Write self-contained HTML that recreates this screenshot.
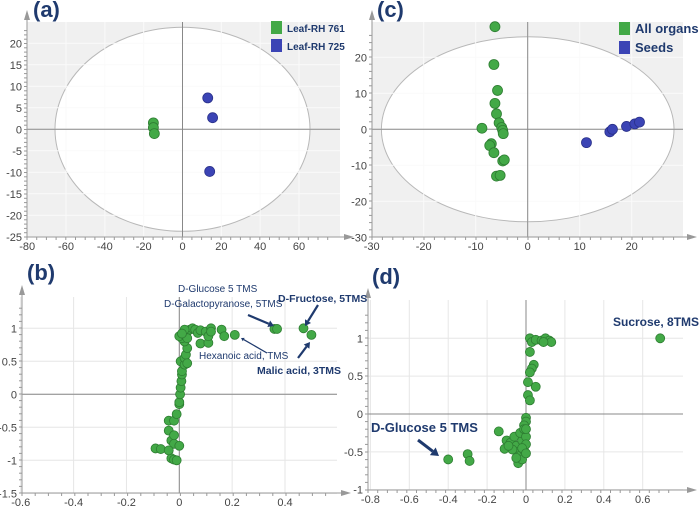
<!DOCTYPE html>
<html><head><meta charset="utf-8">
<style>
body{margin:0;background:#fff;width:699px;height:510px;overflow:hidden;font-family:"Liberation Sans",sans-serif}
svg text{font-family:"Liberation Sans",sans-serif}
</style></head>
<body>
<svg id="fig" width="699" height="510" viewBox="0 0 699 510" xmlns="http://www.w3.org/2000/svg"></svg>
<script>
// Panel (a) scores
const aGreenX=[-15,-15,-14.5];
const aGreenY=[1.5,0.4,-1];
const aBlueX=[13,15.5,14];
const aBlueY=[7.3,2.7,-9.8];
const aXTicks=[-80,-60,-40,-20,0,20,40,60];
const aYTicks=[20,15,10,5,0,-5,-10,-15,-20,-25];
// Panel (c) scores
const cGreenX=[-6.3,-6.5,-5.8,-6.3,-6,-5.5,-5,-4.8,-4.7,-8.8,-7,-7.3,-6.5,-4.8,-4.5,-6,-5.3];
const cGreenY=[28.5,18,10.8,7.2,4.3,1.8,0.5,-0.3,-1.2,0.3,-4,-4.5,-6.5,-8.8,-8.5,-13,-12.8];
const cBlueX=[11.3,15.8,16.3,19,20.6,21.5];
const cBlueY=[-3.7,-0.7,0,0.8,1.5,2];
const cXTicks=[-30,-20,-10,0,10,20];
const cYTicks=[20,10,0,-10,-20,-30];
// Panel (b) loadings
const bX=[-0.09,-0.07,-0.04,-0.04,-0.02,-0.03,-0.02,0,-0.03,-0.02,-0.01,-0.04,-0.02,-0.01,0,0,0.003,0.005,0.008,0.01,0.01,0.005,0.02,0.02,0.025,0.03,0.03,0.02,0.01,0,0.02,0.03,0.04,0.05,0.06,0.07,0.08,0.1,0.08,0.11,0.11,0.12,0.12,0.16,0.17,0.21,0.36,0.37,0.47,0.5,0.02,0.03,0.01];
const bY=[-0.82,-0.83,-0.55,-0.4,-0.4,-0.7,-0.75,-0.78,-0.97,-0.99,-1.0,-0.85,-0.62,-0.3,-0.15,-0.12,0,0.1,0.2,0.3,0.35,0.5,0.45,0.55,0.6,0.47,0.7,0.8,0.85,0.88,0.9,0.95,0.98,1,0.98,0.93,0.97,0.95,0.77,0.78,0.88,1.0,0.95,0.98,0.88,0.9,0.99,0.99,1.0,0.9,0.98,0.85,0.92];
const bXTicks=[-0.6,-0.4,-0.2,0,0.2,0.4];
const bYTicks=[1,0.5,0,-0.5,-1,-1.5];
// Panel (d) loadings
const dX=[0.02,0.03,0.05,0.08,0.1,0.12,0.13,0.09,0.02,0.04,0.03,0.02,0.05,0.01,0.01,0.02,0,0,-0.01,-0.14,-0.1,-0.11,-0.08,-0.06,-0.05,-0.04,-0.03,-0.04,-0.02,-0.01,-0.02,-0.03,0,0,-0.01,-0.07,-0.02,0,-0.3,-0.29,-0.4,-0.05,-0.09,0,0.69];
const dY=[1,0.95,0.98,0.97,1,0.97,0.95,0.95,0.82,0.65,0.6,0.55,0.36,0.42,0.25,0.18,-0.05,-0.1,-0.15,-0.23,-0.35,-0.46,-0.38,-0.3,-0.42,-0.5,-0.55,-0.65,-0.6,-0.48,-0.35,-0.25,-0.3,-0.4,-0.2,-0.47,-0.45,-0.52,-0.53,-0.62,-0.6,-0.58,-0.42,-0.2,1.0];
const dXTicks=[-0.8,-0.6,-0.4,-0.2,0,0.2,0.4,0.6];
const dYTicks=[1,0.5,0,-0.5,-1];

const NS="http://www.w3.org/2000/svg";
const svg=document.getElementById('fig');
function mk(tag,attrs,parent){const e=document.createElementNS(NS,tag);for(const k in attrs)e.setAttribute(k,attrs[k]);(parent||svg).appendChild(e);return e;}
function lin(d0,d1,r0,r1){return v=>r0+(v-d0)*(r1-r0)/(d1-d0);}
const GREEN="#43a947",GSTROKE="#2e7d32",BLUE="#3b44b5",BSTROKE="#2a318a",NAVY="#1f3a6e";

function panel(o){
  const g=mk('g',{});
  
  
  const sx=o.sx,sy=o.sy;
  const bg=mk('rect',{x:o.L,y:o.T,width:o.R-o.L,height:o.B-o.T,fill:o.bg},g);
  
  
  if(o.ell){const el=mk('ellipse',{cx:sx(0),cy:sy(0),rx:o.ell[0],ry:o.ell[1],fill:'#fff',stroke:'#b8b8b8','stroke-width':1},g);
    
    }
  o.xt.forEach(v=>{const x=sx(v);
    const gl=mk('line',{x1:x,x2:x,y1:o.T,y2:o.B,stroke:o.grid,'stroke-width':1},g);
    
    
    const t=mk('text',{x:x,y:o.B+13,'font-size':11,fill:'#444','text-anchor':'middle'},g);t.textContent=String(v);
    
    });
  o.yt.forEach(v=>{const y=sy(v);
    const gl=mk('line',{x1:o.L,x2:o.R,y1:y,y2:y,stroke:o.grid,'stroke-width':1},g);
    
    
    const t=mk('text',{x:o.L-5,y:y+4,'font-size':11,fill:'#444','text-anchor':'end'},g);t.textContent=String(v);
    
    });
  // minor ticks
  for(let x=o.L;x<=o.R-8;x+=o.mx){mk('line',{x1:x,x2:x,y1:o.B,y2:o.B+3,stroke:'#999'},g);}
  for(let y=o.B;y>=o.T+8;y-=o.my){mk('line',{x1:o.L-3,x2:o.L,y1:y,y2:y,stroke:'#999'},g);}
  // zero axes
  mk('line',{x1:sx(0),x2:sx(0),y1:o.T,y2:o.B,stroke:'#888'},g);
  mk('line',{x1:o.L,x2:o.R,y1:sy(0),y2:sy(0),stroke:'#888'},g);
  // frame axes with arrows
  mk('line',{x1:o.L,x2:o.R+8,y1:o.B,y2:o.B,stroke:'#999'},g);
  mk('line',{x1:o.L,x2:o.L,y1:o.B,y2:o.T-6,stroke:'#999'},g);
  mk('polygon',{points:`${o.R+14},${o.B} ${o.R+4},${o.B-3} ${o.R+4},${o.B+3}`,fill:'#999'},g);
  mk('polygon',{points:`${o.L},${o.T-12} ${o.L-3},${o.T-2} ${o.L+3},${o.T-2}`,fill:'#999'},g);
  o.series.forEach(s=>{
    s.xs.forEach((xv,i)=>{const c=mk('circle',{cx:sx(xv),cy:sy(s.ys[i]),r:s.r,fill:s.fill,stroke:s.stroke,'stroke-width':0.8},g);
      
      });
  });
  const lab=mk('text',{x:o.lab[0],y:o.lab[1],'font-size':22,'font-weight':'bold',fill:NAVY},g);
  lab.textContent=o.labText;
  
  
  return g;
}

panel({name:'panel-a-scores',L:27,R:340,T:22,B:237,bg:'#f0f0f0',grid:'#fafafa',
  sx:lin(0,60,182.5,299),sy:lin(0,20,129.3,43.3),ell:[127.5,102],xt:aXTicks,yt:aYTicks,mx:9.7,my:4.3,
  series:[{name:'leaf-rh-761-point',xs:aGreenX,ys:aGreenY,r:5,fill:GREEN,stroke:GSTROKE},
          {name:'leaf-rh-725-point',xs:aBlueX,ys:aBlueY,r:5,fill:BLUE,stroke:BSTROKE}],
  lab:[33,17],labText:'(a)'});
panel({name:'panel-c-scores',L:372,R:683,T:22,B:237,bg:'#f0f0f0',grid:'#fafafa',
  sx:lin(0,20,527.7,631.7),sy:lin(0,20,129.3,57.3),ell:[146.3,92.5],xt:cXTicks,yt:cYTicks,mx:10.4,my:7.2,
  series:[{name:'all-organs-point',xs:cGreenX,ys:cGreenY,r:5,fill:GREEN,stroke:GSTROKE},
          {name:'seeds-point',xs:cBlueX,ys:cBlueY,r:5,fill:BLUE,stroke:BSTROKE}],
  lab:[377,17],labText:'(c)'});
panel({name:'panel-b-loadings',L:22,R:337,T:297,B:493,bg:'#ffffff',grid:'#e6e6e6',
  sx:lin(0,0.4,179.3,285),sy:lin(0,1,394.3,328.3),xt:bXTicks,yt:bYTicks,mx:13.2,my:6.6,
  series:[{name:'metabolite-loading-point',xs:bX,ys:bY,r:4.5,fill:GREEN,stroke:GSTROKE}],
  lab:[27,280],labText:'(b)'});
panel({name:'panel-d-loadings',L:368,R:683,T:300,B:490,bg:'#ffffff',grid:'#e6e6e6',
  sx:lin(0,0.6,526,642.7),sy:lin(0,1,414,338.3),xt:dXTicks,yt:dYTicks,mx:9.7,my:7.6,
  series:[{name:'metabolite-loading-point',xs:dX,ys:dY,r:4.5,fill:GREEN,stroke:GSTROKE}],
  lab:[372,284],labText:'(d)'});

function txt(x,y,s,size,bold,name){const t=mk('text',{x:x,y:y,'font-size':size,'font-weight':bold?'bold':'normal',fill:NAVY});t.textContent=s;
  
  return t;}
function arrow(x1,y1,x2,y2,w,name){const g=mk('g',{});
  
  
  const a=Math.atan2(y2-y1,x2-x1),h=w*2.6;
  const bx=x2-h*Math.cos(a),by=y2-h*Math.sin(a);
  mk('line',{x1:x1,y1:y1,x2:bx,y2:by,stroke:NAVY,'stroke-width':w},g);
  const px=Math.sin(a)*w*1.6,py=-Math.cos(a)*w*1.6;
  mk('polygon',{points:`${x2},${y2} ${bx+px},${by+py} ${bx-px},${by-py}`,fill:NAVY},g);}

// legends
function legend(x,y,color,label,size,name){const r=mk('rect',{x:x,y:y,width:11,height:13,fill:color});
  
  
  txt(x+16,y+11,label,size,true,name+'-label');}
legend(271,21,GREEN,'Leaf-RH 761',10,'legend-leaf-rh-761');
legend(271,39,BLUE,'Leaf-RH 725',10,'legend-leaf-rh-725');
legend(619,22,GREEN,'All organs',13,'legend-all-organs');
legend(619,41,BLUE,'Seeds',13,'legend-seeds');

// annotations (b)
txt(178,292,'D-Glucose 5 TMS',10,false,'annotation-d-glucose');
txt(164,307,'D-Galactopyranose, 5TMS',10,false,'annotation-d-galactopyranose');
txt(278,302,'D-Fructose, 5TMS',10.5,true,'annotation-d-fructose');
txt(199,359,'Hexanoic acid, TMS',10,false,'annotation-hexanoic-acid');
txt(257,374,'Malic acid, 3TMS',10.5,true,'annotation-malic-acid');
arrow(248,315,274,326,2.2,'arrow-glucose');
arrow(318,305,305,326,2.2,'arrow-fructose');
arrow(298,358,310,342,2.2,'arrow-malic');
arrow(267,353,241,338,1.2,'arrow-hexanoic');
// annotations (d)
txt(613,326,'Sucrose, 8TMS',12,true,'annotation-sucrose');
txt(371,432,'D-Glucose 5 TMS',13,true,'annotation-d-glucose-d');
arrow(418,440,439,456,3,'arrow-glucose-d');
</script>
</body></html>
